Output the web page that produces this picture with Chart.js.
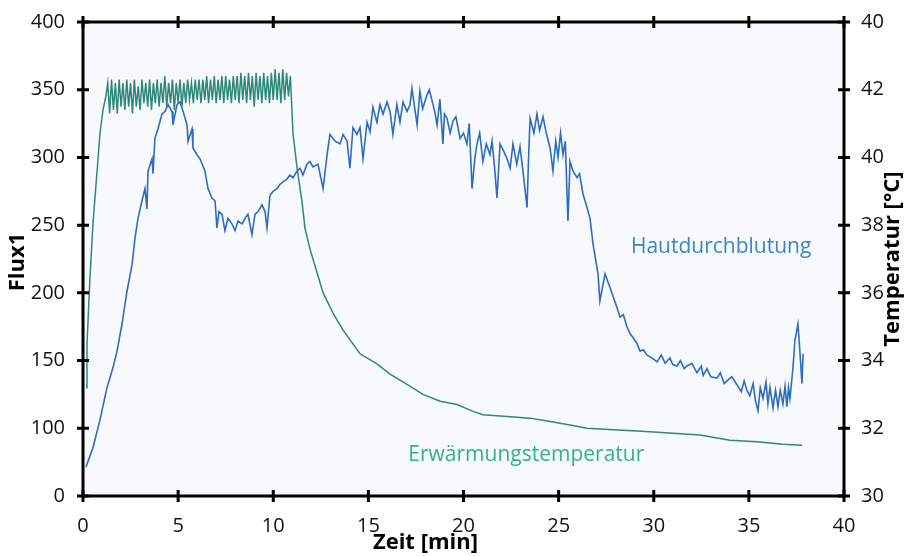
<!DOCTYPE html>
<html>
<head>
<meta charset="utf-8">
<script src="https://cdn.jsdelivr.net/npm/chart.js@4/dist/chart.umd.min.js"></script>
<style>
  html, body { margin: 0; padding: 0; background: #fff; }
  #wrap { width: 905px; height: 556px; }
</style>
</head>
<body>
<div id="wrap"><canvas id="chart" width="905" height="556"></canvas></div>
<script>
// --- data ---
const timeTicks = [0, 5, 10, 15, 20, 25, 30, 35, 40];
const fluxTicks = [0, 100, 150, 200, 250, 300, 350, 400];   // left axis labels (unevenly valued, evenly spaced)
const tempTicks = [30, 32, 34, 36, 38, 40, 42, 40];          // right axis labels as printed

// Erwärmungstemperatur [°C]
const tempTime = [
  0.16, 0.21, 0.37, 0.53, 0.74, 0.89, 1.05, 1.2,
  1.3, 1.4, 1.5, 1.6, 1.7, 1.8, 1.9, 2.0, 2.1, 2.2, 2.3, 2.4, 2.5, 2.6, 2.7, 2.8, 2.9,
  3.0, 3.1, 3.2, 3.3, 3.4, 3.5, 3.6, 3.7, 3.8, 3.9, 4.0, 4.1, 4.2, 4.3, 4.4, 4.5, 4.6, 4.7, 4.8, 4.9,
  5.0, 5.1, 5.2, 5.3, 5.4, 5.5, 5.6, 5.7, 5.8, 5.9, 6.0, 6.1, 6.2, 6.3, 6.4, 6.5, 6.6, 6.7, 6.8, 6.9,
  7.0, 7.1, 7.2, 7.3, 7.4, 7.5, 7.6, 7.7, 7.8, 7.9, 8.0, 8.1, 8.2, 8.3, 8.4, 8.5, 8.6, 8.7, 8.8, 8.9,
  9.0, 9.1, 9.2, 9.3, 9.4, 9.5, 9.6, 9.7, 9.8, 9.9, 10.0, 10.1, 10.2, 10.3, 10.4, 10.5, 10.6, 10.7, 10.8, 10.9,
  11.04, 11.25, 11.51, 11.67, 11.93, 12.3, 12.62, 13.14, 13.67, 14.56, 15.45, 16.14, 17.03, 17.87,
  18.77, 19.66, 20.5, 21.02, 22.29, 23.5, 24.55, 25.6, 26.49, 29.8, 32.43, 34.01, 35.43, 36.79, 37.79
];
const tempValue = [
  33.2, 34.5, 36.5, 38.1, 39.6, 40.7, 41.4, 41.8,
  42.2, 41.3, 42.3, 41.4, 42.2, 41.3, 42.3, 41.5, 42.2, 41.4, 42.3, 41.5, 42.2, 41.3, 42.3, 41.5, 42.1,
  41.4, 42.3, 41.6, 42.2, 41.5, 42.3, 41.4, 42.2, 41.6, 42.3, 41.5, 42.2, 41.6, 42.4, 41.5, 42.2, 41.6, 42.3, 41.4, 42.2,
  41.6, 42.3, 41.5, 42.2, 41.6, 42.3, 41.7, 42.2, 41.6, 42.3, 41.7, 42.3, 41.6, 42.3, 41.7, 42.4, 41.6, 42.3, 41.7, 42.4,
  41.6, 42.3, 41.7, 42.4, 41.6, 42.4, 41.7, 42.3, 41.6, 42.4, 41.7, 42.4, 41.6, 42.5, 41.7, 42.4, 41.6, 42.5, 41.7, 42.4,
  41.5, 42.5, 41.7, 42.4, 41.6, 42.5, 41.7, 42.4, 41.6, 42.5, 41.7, 42.6, 41.7, 42.5, 41.6, 42.6, 41.7, 42.5, 41.8, 42.4,
  40.7, 39.7, 38.7, 37.9, 37.3, 36.6, 36.0, 35.4, 34.9, 34.2, 33.9, 33.6, 33.3, 33.0,
  32.8, 32.7, 32.5, 32.4, 32.35, 32.3, 32.2, 32.1, 32.0, 31.9, 31.8, 31.65, 31.6, 31.53, 31.5
];

// Hautdurchblutung (Flux1), rows of 10
const fluxTime = [
  0.16, 0.53, 0.89, 1.26, 1.58, 1.79, 2.05, 2.31, 2.58, 2.73,
  2.89, 3.1, 3.26, 3.36, 3.42, 3.63, 3.68, 3.78, 3.94, 4.15,
  4.31, 4.47, 4.68, 4.73, 4.94, 5.1, 5.26, 5.47, 5.52, 5.73,
  5.78, 5.99, 6.15, 6.41, 6.57, 6.78, 6.94, 7.04, 7.15, 7.31,
  7.46, 7.62, 7.83, 7.99, 8.15, 8.36, 8.52, 8.67, 8.88, 9.04,
  9.2, 9.41, 9.57, 9.67, 9.83, 9.99, 10.2, 10.35, 10.51, 10.72,
  10.88, 11.04, 11.25, 11.41, 11.56, 11.77, 11.93, 12.09, 12.35, 12.62,
  12.83, 12.98, 13.25, 13.51, 13.67, 13.88, 14.03, 14.19, 14.4, 14.56,
  14.72, 14.93, 15.09, 15.24, 15.45, 15.61, 15.77, 15.98, 16.14, 16.29,
  16.5, 16.66, 16.82, 17.03, 17.19, 17.29, 17.4, 17.56, 17.71, 17.85,
  18.08, 18.2, 18.4, 18.5, 18.61, 18.76, 18.92, 19.0, 19.13, 19.3,
  19.45, 19.6, 19.82, 20.0, 20.18, 20.3, 20.45, 20.6, 20.71, 20.85,
  21.02, 21.2, 21.39, 21.5, 21.65, 21.76, 21.92, 22.1, 22.29, 22.45,
  22.6, 22.8, 22.97, 23.15, 23.34, 23.42, 23.5, 23.7, 23.86, 24.0,
  24.18, 24.35, 24.55, 24.7, 24.85, 24.97, 25.1, 25.23, 25.35, 25.49,
  25.6, 25.75, 25.97, 26.1, 26.28, 26.45, 26.65, 26.81, 27.07, 27.17,
  27.44, 27.7, 28.07, 28.23, 28.4, 28.59, 28.75, 28.91, 29.1, 29.28,
  29.45, 29.65, 29.9, 30.17, 30.4, 30.6, 30.85, 31.0, 31.22, 31.4,
  31.6, 31.75, 32.0, 32.27, 32.5, 32.6, 32.8, 33.0, 33.32, 33.5,
  33.7, 33.85, 34.1, 34.38, 34.6, 34.75, 34.9, 35.05, 35.22, 35.35,
  35.48, 35.6, 35.74, 35.9, 36.0, 36.11, 36.27, 36.4, 36.53, 36.65,
  36.79, 36.9, 37.0, 37.08, 37.16, 37.32, 37.42, 37.58, 37.69, 37.79,
  37.85
];
const fluxValue = [
  43, 72, 106, 130, 145, 157, 177, 201, 221, 240,
  255, 268, 277, 262, 290, 299, 288, 314, 321, 332,
  334, 339, 334, 324, 339, 341, 334, 324, 312, 321,
  307, 302, 299, 290, 277, 270, 268, 248, 260, 258,
  246, 255, 251, 246, 253, 251, 255, 258, 243, 258,
  260, 265, 260, 248, 272, 275, 277, 280, 282, 284,
  287, 285, 290, 292, 287, 295, 297, 293, 295, 277,
  302, 317, 312, 310, 317, 312, 292, 322, 317, 322,
  299, 326, 319, 337, 326, 339, 332, 341, 334, 317,
  339, 326, 341, 334, 339, 351, 340, 324, 349, 336,
  346, 350, 339, 333, 324, 343, 310, 332, 329, 318,
  327, 330, 314, 318, 310, 325, 277, 300, 310, 318,
  297, 310, 302, 312, 290, 270, 310, 305, 299, 292,
  310, 295, 308, 287, 263, 300, 329, 318, 332, 320,
  330, 318, 307, 290, 312, 300, 318, 302, 312, 253,
  297, 290, 285, 288, 273, 265, 255, 236, 214, 194,
  214, 204, 189, 182, 184, 175, 170, 167, 163, 157,
  158, 154, 152, 149, 154, 148, 152, 147, 146, 150,
  144, 146, 148, 141, 146, 139, 144, 138, 137, 141,
  133, 135, 138, 132, 127, 135, 128, 124, 133, 120,
  113, 130, 122, 134, 118, 130, 115, 128, 116, 128,
  118, 131, 116, 130, 122, 145, 165, 177, 155, 133,
  155
];

// left axis is evenly spaced between uneven labels -> map flux onto tick slots
function fluxToSlot(v) {
  for (let i = 0; i < fluxTicks.length - 1; i++) {
    if (v <= fluxTicks[i + 1]) return i + (v - fluxTicks[i]) / (fluxTicks[i + 1] - fluxTicks[i]);
  }
  return fluxTicks.length - 1;
}

const fluxPoints = fluxTime.map((t, i) => ({ x: t, y: fluxToSlot(fluxValue[i]) }));
const tempPoints = tempTime.map((t, i) => ({ x: t, y: tempValue[i] }));

Chart.defaults.font.family = "'Open Sans', 'Noto Sans', sans-serif";
Chart.defaults.color = '#111';

const framePlugin = {
  id: 'frame',
  beforeDraw(chart) {
    const { ctx, chartArea: a } = chart;
    ctx.save();
    ctx.fillStyle = '#f8f9fd';
    ctx.fillRect(a.left, a.top, a.right - a.left, a.bottom - a.top);
    ctx.restore();
  },
  afterDraw(chart) {
    const { ctx, chartArea: a, scales } = chart;
    ctx.save();
    ctx.strokeStyle = '#000';
    ctx.lineWidth = 3;
    ctx.lineCap = 'butt';
    ctx.strokeRect(a.left, a.top, a.right - a.left, a.bottom - a.top);
    const half = 6;
    ctx.beginPath();
    scales.x.ticks.forEach(t => {
      const px = scales.x.getPixelForValue(t.value);
      ctx.moveTo(px, a.bottom - half); ctx.lineTo(px, a.bottom + half);
      ctx.moveTo(px, a.top - half); ctx.lineTo(px, a.top + half);
    });
    scales.y.ticks.forEach(t => {
      const py = scales.y.getPixelForValue(t.value);
      ctx.moveTo(a.left - half, py); ctx.lineTo(a.left + half, py);
    });
    scales.y2.ticks.forEach(t => {
      const py = scales.y2.getPixelForValue(t.value);
      ctx.moveTo(a.right - half, py); ctx.lineTo(a.right + half, py);
    });
    ctx.stroke();

    // axis titles
    ctx.fillStyle = '#000';
    ctx.font = "bold 22px 'Open Sans', sans-serif";
    ctx.textAlign = 'center';
    ctx.textBaseline = 'middle';
    ctx.fillText('Zeit [min]', a.left + (a.right - a.left) * 0.45, 543);
    ctx.save();
    ctx.translate(18, (a.top + a.bottom) / 2 + 3);
    ctx.rotate(-Math.PI / 2);
    ctx.fillText('Flux1', 0, 0);
    ctx.restore();
    ctx.save();
    ctx.translate(893, (a.top + a.bottom) / 2);
    ctx.rotate(-Math.PI / 2);
    ctx.fillText('Temperatur [°C]', 0, 0);
    ctx.restore();

    // series labels
    ctx.font = "21px 'Open Sans', sans-serif";
    ctx.textAlign = 'left';
    ctx.fillStyle = '#3a87c4';
    ctx.fillText('Hautdurchblutung', scales.x.getPixelForValue(28.8), scales.y.getPixelForValue(fluxToSlot(234)));
    ctx.fillStyle = '#2fb38c';
    ctx.fillText('Erwärmungstemperatur', scales.x.getPixelForValue(17.1), scales.y2.getPixelForValue(31.2));
    ctx.restore();
  }
};

new Chart(document.getElementById('chart'), {
  type: 'line',
  data: {
    datasets: [
      {
        label: 'Erwärmungstemperatur',
        data: tempPoints,
        yAxisID: 'y2',
        borderColor: '#2c8878',
        borderWidth: 1.5,
        pointRadius: 0,
        tension: 0
      },
      {
        label: 'Hautdurchblutung',
        data: fluxPoints,
        yAxisID: 'y',
        borderColor: '#2e6cc2',
        borderWidth: 1.6,
        pointRadius: 0,
        tension: 0
      }
    ]
  },
  options: {
    responsive: false,
    animation: false,
    layout: { padding: { top: 20, left: 0, right: 0, bottom: 0 } },
    plugins: { legend: { display: false }, tooltip: { enabled: false } },
    scales: {
      x: {
        type: 'linear', min: 0, max: 40,
        afterBuildTicks: s => { s.ticks = timeTicks.map(v => ({ value: v })); },
        ticks: { padding: 10, font: { size: 20 }, color: '#111' },
        grid: { display: false }, border: { display: false },
        afterFit: s => { s.height = 60; }
      },
      y: {
        position: 'left', min: 0, max: fluxTicks.length - 1,
        ticks: { stepSize: 1, padding: 10, font: { size: 20 }, color: '#111',
                 callback: v => fluxTicks[v] },
        grid: { display: false }, border: { display: false },
        afterFit: s => { s.width = 83; }
      },
      y2: {
        position: 'right', min: 30, max: 44,
        ticks: { stepSize: 2, padding: 9, font: { size: 20 }, color: '#111',
                 callback: (v, i) => tempTicks[i] },
        grid: { display: false }, border: { display: false },
        afterFit: s => { s.width = 61; }
      }
    }
  },
  plugins: [framePlugin]
});
</script>
</body>
</html>
